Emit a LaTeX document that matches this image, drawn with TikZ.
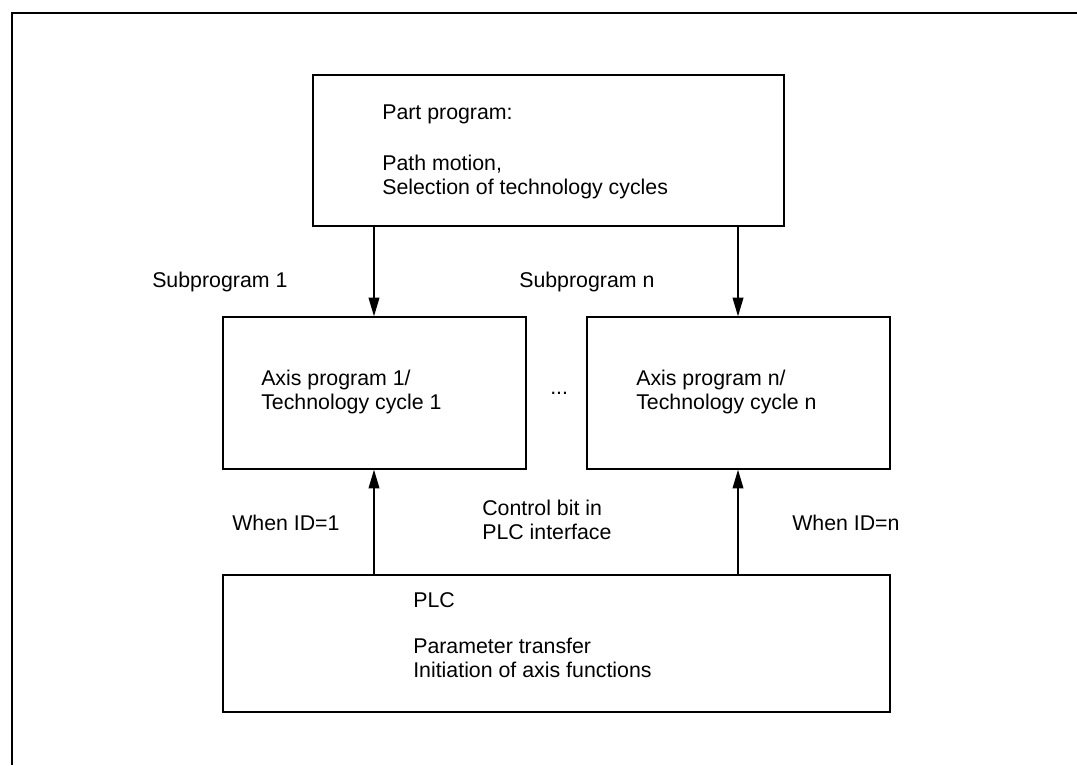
\documentclass[tikz,border=0pt]{standalone}
\usepackage{fontspec}
\setmainfont{Liberation Sans}
\usetikzlibrary{fit,arrows.meta}
\begin{document}
\begin{tikzpicture}[x=0.75pt,y=-0.75pt,
  box/.style={draw,line width=1pt,inner sep=0pt},
  lbl/.style={anchor=base west,inner sep=0pt,font=\fontsize{16pt}{18pt}\selectfont},
  arr/.style={line width=1.2pt,-{Triangle[length=14pt,width=8pt]}},
  frm/.style={line width=1.6pt}]
\useasboundingbox (0,0) rectangle (1077,765);
% frame
\coordinate (fa) at (12,765);
\coordinate (fb) at (12,13);
\coordinate (fc) at (1077,13);
\draw[frm] (fa) -- (fb) -- (fc);
% boxes
\node[box,fit={(313,75) (784,226)}] (top) {};
\node[box,fit={(223,317) (526,469)}] (mid1) {};
\node[box,fit={(587,317) (890,469)}] (midn) {};
\node[box,fit={(223,575) (890,712)}] (plc) {};
% arrow columns
\coordinate (c1) at (374,0);
\coordinate (cn) at (738,0);
\draw[arr] (top.south -| c1) -- (mid1.north -| c1);
\draw[arr] (top.south -| cn) -- (midn.north -| cn);
\draw[arr] (plc.north -| c1) -- (mid1.south -| c1);
\draw[arr] (plc.north -| cn) -- (midn.south -| cn);
% texts
\node[lbl] (t1) at (382,119) {Part program:};
\node[lbl] (t2) at (382,170) {Path motion,};
\node[lbl] (t3) at (382,194) {Selection of technology cycles};
\node[lbl] (s1) at (152,287) {Subprogram 1};
\node[lbl] (sn) at (519,287) {Subprogram n};
\node[lbl] (a1) at (261,385) {Axis program 1/};
\node[lbl] (a2) at (261,409) {Technology cycle 1};
\node[lbl] (dots) at (550,394) {...};
\node[lbl] (n1) at (636,385) {Axis program n/};
\node[lbl] (n2) at (636,409) {Technology cycle n};
\node[lbl] (w1) at (232,530) {When ID=1};
\node[lbl] (cb1) at (482,515) {Control bit in};
\node[lbl] (cb2) at (482,539) {PLC interface};
\node[lbl] (wn) at (792,530) {When ID=n};
\node[lbl] (p1) at (413,607) {PLC};
\node[lbl] (p2) at (413,653) {Parameter transfer};
\node[lbl] (p3) at (413,677) {Initiation of axis functions};
\end{tikzpicture}
\end{document}
